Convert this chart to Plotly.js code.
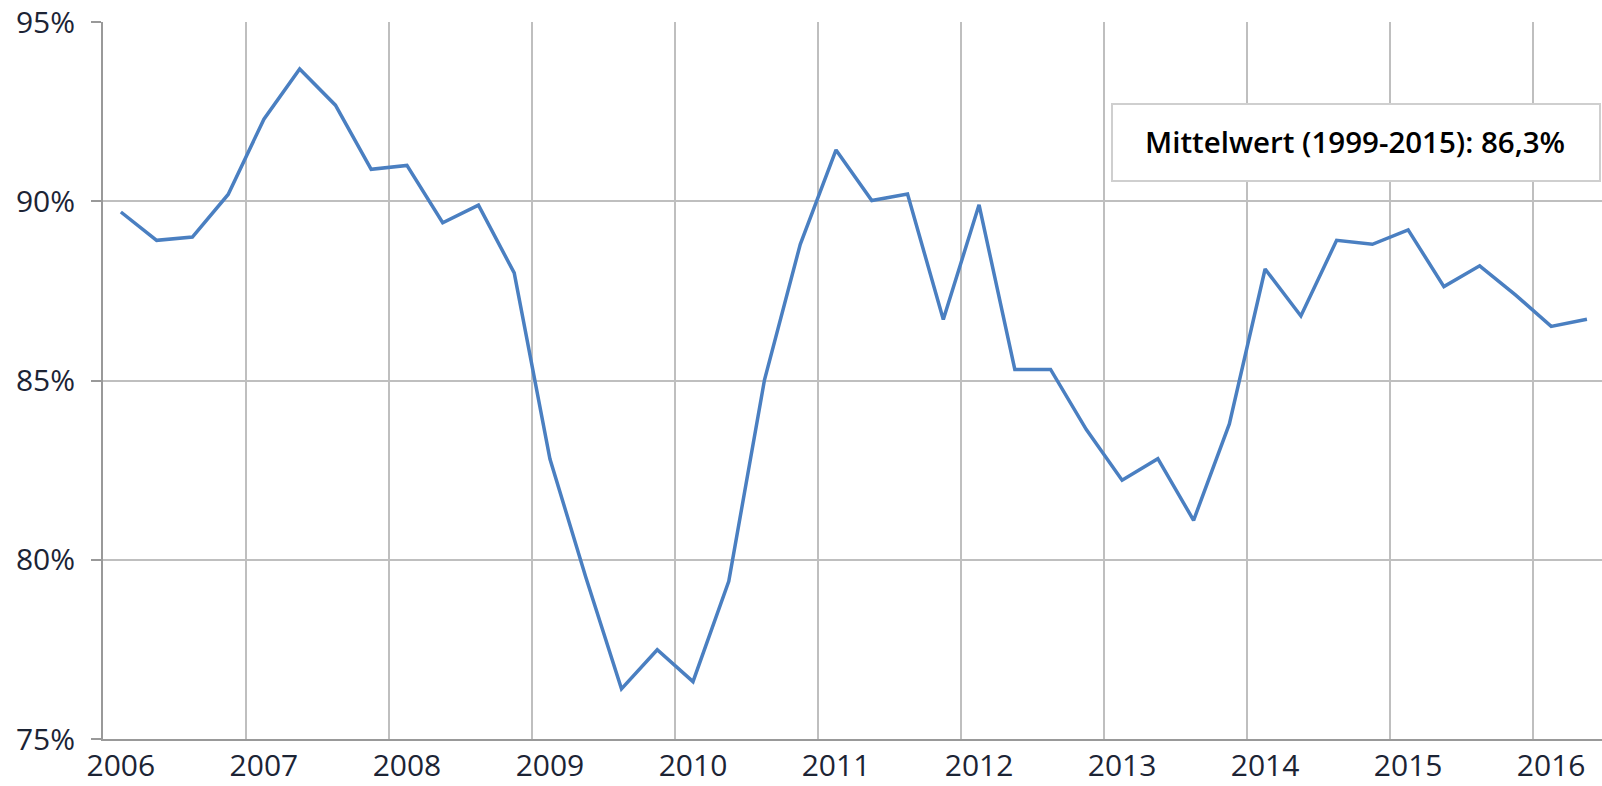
<!DOCTYPE html>
<html>
<head>
<meta charset="utf-8">
<script src="https://cdn.plot.ly/plotly-3.0.1.min.js"></script>
<style>html,body{margin:0;padding:0;background:#fff;}#chart{width:1602px;height:786px;}</style>
</head>
<body>
<div id="chart"></div>
<script>
// Quarterly series, 2006 Q1 – 2016 Q2
const quarters = [
  "2006 Q1","2006 Q2","2006 Q3","2006 Q4",
  "2007 Q1","2007 Q2","2007 Q3","2007 Q4",
  "2008 Q1","2008 Q2","2008 Q3","2008 Q4",
  "2009 Q1","2009 Q2","2009 Q3","2009 Q4",
  "2010 Q1","2010 Q2","2010 Q3","2010 Q4",
  "2011 Q1","2011 Q2","2011 Q3","2011 Q4",
  "2012 Q1","2012 Q2","2012 Q3","2012 Q4",
  "2013 Q1","2013 Q2","2013 Q3","2013 Q4",
  "2014 Q1","2014 Q2","2014 Q3","2014 Q4",
  "2015 Q1","2015 Q2","2015 Q3","2015 Q4",
  "2016 Q1","2016 Q2"
];
const values = [
  89.70, 88.91, 89.00, 90.19,
  92.29, 93.69, 92.68, 90.89,
  91.00, 89.40, 89.89, 88.00,
  82.81, 79.52, 76.40, 77.49,
  76.60, 79.40, 85.02, 88.80,
  91.43, 90.02, 90.20, 86.70,
  89.90, 85.31, 85.31, 83.63,
  82.22, 82.82, 81.10, 83.79,
  88.11, 86.80, 88.91, 88.80,
  89.20, 87.62, 88.20, 87.39,
  86.51, 86.71
];
const yearTicks = [2006, 2007, 2008, 2009, 2010, 2011, 2012, 2013, 2014, 2015, 2016];
const yearLabels = ["2006","2007","2008","2009","2010","2011","2012","2013","2014","2015","2016"];
const yTicks = [75, 80, 85, 90, 95];
const yLabels = ["75%","80%","85%","90%","95%"];
const noteText = "Mittelwert (1999-2015): 86,3%";

// position each quarter at the middle of its quarter within the year
const xs = quarters.map(q => {
  const [y, qq] = q.split(" Q");
  return Number(y) + (Number(qq) - 0.5) / 4;
});
// year labels sit under the first quarter of each year
const labelPos = yearTicks.map(y => y + 0.125);

const plotLeft = 103, plotRight = 1602, plotTop = 22, plotBottom = 739;
const pxPerYear = 143.03;
const xRange = [2006, 2006 + (plotRight - plotLeft) / pxPerYear];

const fontFam = "'Open Sans', 'Noto Sans', sans-serif";
const textColor = "#1c2435";
const tickFont = {family: fontFam, size: 30, color: textColor};

const trace = {
  x: xs, y: values, type: "scatter", mode: "lines",
  line: {color: "#4a7fc1", width: 3.5},
  hoverinfo: "skip"
};
// same series bound to the label axis (draws nothing, only activates that axis)
const labelAxisTrace = {
  x: xs, y: values, type: "scatter", mode: "none",
  xaxis: "x2", yaxis: "y", hoverinfo: "skip", showlegend: false
};

const layout = {
  width: 1602, height: 786,
  margin: {l: plotLeft, r: 1602 - plotRight, t: plotTop, b: 786 - plotBottom, pad: 0},
  paper_bgcolor: "#ffffff", plot_bgcolor: "#ffffff",
  showlegend: false,
  xaxis: {
    range: xRange,
    tickmode: "array", tickvals: yearTicks, showticklabels: false,
    ticks: "", showgrid: true, gridcolor: "#bfbfbf", gridwidth: 2,
    zeroline: false, showline: true, linecolor: "#999999", linewidth: 2,
    fixedrange: true
  },
  xaxis2: {
    overlaying: "x", anchor: "y", side: "bottom",
    range: xRange,
    tickmode: "array", tickvals: labelPos, ticktext: yearLabels,
    ticks: "", showgrid: false, zeroline: false, showline: false,
    tickfont: tickFont, ticklabelstandoff: 6,
    fixedrange: true
  },
  yaxis: {
    range: [75, 95],
    tickmode: "array", tickvals: yTicks, ticktext: yLabels,
    ticks: "outside", ticklen: 10, tickwidth: 2, tickcolor: "#999999",
    showgrid: true, gridcolor: "#bfbfbf", gridwidth: 2,
    zeroline: false, showline: true, linecolor: "#999999", linewidth: 2,
    tickfont: tickFont, ticklabelstandoff: 10,
    fixedrange: true
  },
  shapes: [{
    type: "rect", xref: "paper", yref: "paper", layer: "above",
    x0: (1112 - plotLeft) / (plotRight - plotLeft),
    x1: (1600 - plotLeft) / (plotRight - plotLeft),
    y0: (plotBottom - 181) / (plotBottom - plotTop),
    y1: (plotBottom - 104) / (plotBottom - plotTop),
    fillcolor: "#ffffff", line: {color: "#cfcfcf", width: 2}
  }],
  annotations: [{
    xref: "paper", yref: "paper",
    x: (1355 - plotLeft) / (plotRight - plotLeft),
    y: (plotBottom - 141) / (plotBottom - plotTop),
    xanchor: "center", yanchor: "middle",
    text: noteText, showarrow: false,
    font: {family: fontFam, size: 29.5, color: "#000000", weight: 600}
  }]
};

Plotly.newPlot("chart", [trace, labelAxisTrace], layout, {staticPlot: true, displayModeBar: false});
</script>
</body>
</html>
